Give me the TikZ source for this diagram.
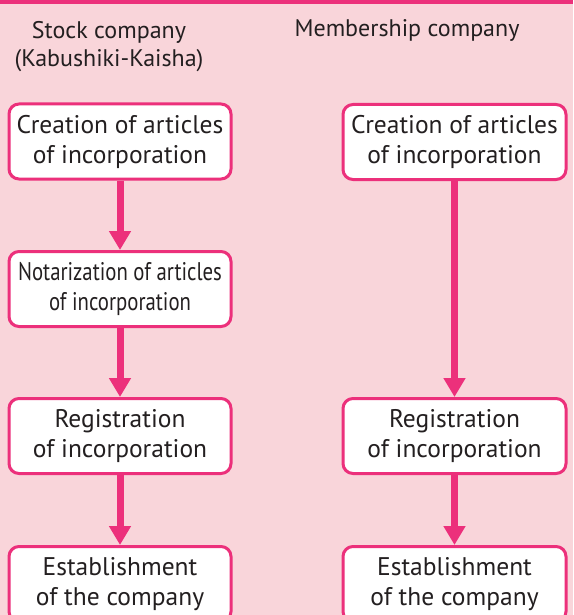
\documentclass[tikz,border=0pt]{standalone}
\usepackage{fontspec}
\setmainfont{PT Sans}
\newfontfamily\narrowfont[FakeStretch=0.815]{PT Sans}
\usetikzlibrary{arrows.meta}
\definecolor{rose}{HTML}{EC307B}
\definecolor{blush}{HTML}{F9D5DA}
\definecolor{ink}{HTML}{231F20}
\begin{document}
\begin{tikzpicture}[x=1pt,y=-1pt,
  stepbox/.style={draw=rose, line width=3pt, fill=white, rounded corners=10pt,
    minimum width=222pt, minimum height=75pt, align=center, text=ink,
    font=\fontsize{25.5}{30}\selectfont, inner sep=0pt},
  headtext/.style={text=ink, align=center, font=\fontsize{24}{28}\selectfont, inner sep=0pt},
  flow/.style={draw=rose, line width=7pt, -{Triangle[width=21pt,length=19pt]}}]
  \useasboundingbox (0,0) rectangle (573,615);
  \fill[blush] (0,0) rectangle (573,615);
  \fill[rose] (0,0) rectangle (573,4);

  % column headings
  \node[headtext] (hstock) at (109,47) {Stock company\\(Kabushiki-Kaisha)};
  \node[headtext, anchor=base] (hmember) at (407,37) {Membership company};

  % stock company steps
  \node[stepbox] (s1) at (120,141.5) {Creation of articles\\of incorporation};
  \node[stepbox] (s2) at (120,289) {\narrowfont Notarization of articles\\\narrowfont of incorporation};
  \node[stepbox] (s3) at (120,436) {Registration\\of incorporation};
  \node[stepbox] (s4) at (120,584) {Establishment\\of the company};

  % membership company steps
  \node[stepbox, minimum width=223pt] (m1) at (454.5,142) {Creation of articles\\of incorporation};
  \node[stepbox, minimum width=223pt] (m2) at (454.5,436) {Registration\\of incorporation};
  \node[stepbox, minimum width=223pt] (m3) at (454.5,584) {Establishment\\of the company};

  \draw[flow] (s1) -- (s2);
  \draw[flow] (s2) -- (s3);
  \draw[flow] (s3) -- (s4);
  \draw[flow] (m1) -- (m2);
  \draw[flow] (m2) -- (m3);
\end{tikzpicture}
\end{document}
